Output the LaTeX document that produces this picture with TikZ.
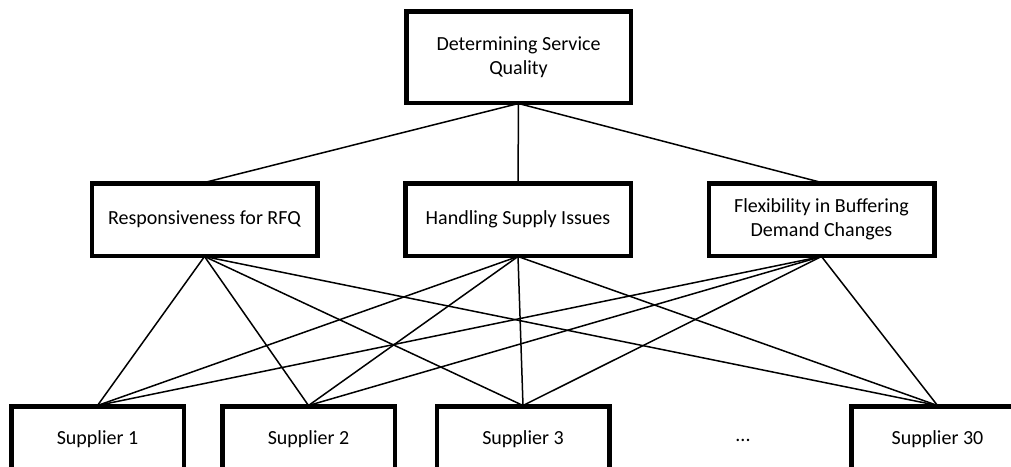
\documentclass[tikz,border=0pt]{standalone}
\usepackage{fontspec}
\setmainfont{Carlito}
\begin{document}
\begin{tikzpicture}[x=1pt,y=-1pt,
  box/.style={draw=black,line width=3pt,fill=white,align=center,
    font=\fontsize{20}{24.4}\selectfont,inner sep=0pt},
  topbox/.style={box,minimum width=223pt,minimum height=90pt},
  midbox/.style={box,minimum width=224pt,minimum height=71pt},
  supbox/.style={box,minimum width=171pt,minimum height=64pt},
  link/.style={draw=black,line width=1.5pt}]
\useasboundingbox (0,0) rectangle (1011,466);

% goal
\node[topbox] (goal) at (518.5,57) {Determining Service\\Quality};

% criteria
\node[midbox] (c1) at (204.5,219.5) {Responsiveness for RFQ};
\node[midbox] (c2) at (518,219.5) {Handling Supply Issues};
\node[midbox] (c3) at (821.5,219.5) {Flexibility in Buffering\\Demand Changes};

% alternatives
\node[supbox] (s1) at (97.5,439) {Supplier 1};
\node[supbox] (s2) at (308.5,439) {Supplier 2};
\node[supbox] (s3) at (523,439) {Supplier 3};
\node[font=\fontsize{20}{24.4}\selectfont] (dots) at (743,440) {...};
\node[supbox] (s30) at (937.5,439) {Supplier 30};

% goal to criteria
\foreach \c in {c1,c2,c3}
  \draw[link] (goal.south) -- (\c.north);

% criteria to alternatives
\foreach \c in {c1,c2,c3}
  \foreach \s in {s1,s2,s3,s30}
    \draw[link] (\c.south) -- (\s.north);

% redraw box borders over the line ends
\foreach \n in {goal,c1,c2,c3,s1,s2,s3,s30}
  \draw[line width=3pt] (\n.north west) rectangle (\n.south east);
\end{tikzpicture}
\end{document}
